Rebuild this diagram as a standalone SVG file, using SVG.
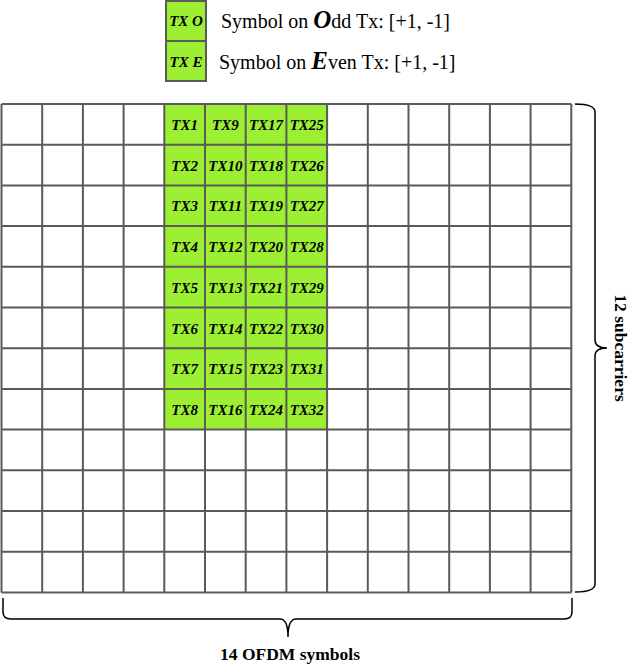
<svg xmlns="http://www.w3.org/2000/svg" width="634" height="664" viewBox="0 0 634 664">
<style>
.g{fill:#9cef33;stroke:#5a5a5a;stroke-width:2}
.ln{stroke:#5a5a5a;stroke-width:2;fill:none}
.c{font-family:"Liberation Serif","Times New Roman",serif;font-weight:bold;font-style:italic;font-size:15px;fill:#000;text-anchor:middle}
.lg{font-family:"Liberation Serif","Times New Roman",serif;font-size:20px;fill:#000}
.big{font-family:"Liberation Serif","Times New Roman",serif;font-weight:bold;font-style:italic;font-size:25px}
.br{stroke:#000;stroke-width:1.5;fill:none}
.lab{font-family:"Liberation Serif","Times New Roman",serif;font-weight:bold;font-size:17.5px;fill:#000;text-anchor:middle}
</style>
<rect width="634" height="664" fill="#fff"/>
<g id="legend-odd"><rect class="g" x="166" y="1" width="40" height="40"/><text class="c" x="186" y="26">TX O</text><text class="lg" x="221" y="28">Symbol on <tspan class="big">O</tspan>dd Tx: [+1, -1]</text></g>
<g id="legend-even"><rect class="g" x="166" y="41" width="40" height="40"/><text class="c" x="186" y="67">TX E</text><text class="lg" x="219" y="69">Symbol on <tspan class="big">E</tspan>ven Tx: [+1, -1]</text></g>
<g id="green-region">
<rect x="164.3" y="104" width="162.8" height="325.6" fill="#9cef33"/>
</g>
<g id="grid" class="ln">
<path d="M1.5,104V592.4M42.2,104V592.4M82.9,104V592.4M123.6,104V592.4M164.3,104V592.4M205,104V592.4M245.7,104V592.4M286.4,104V592.4M327.1,104V592.4M367.8,104V592.4M408.5,104V592.4M449.2,104V592.4M489.9,104V592.4M530.6,104V592.4M571.3,104V592.4"/>
<path d="M1.5,104H571.3M1.5,144.7H571.3M1.5,185.4H571.3M1.5,226.1H571.3M1.5,266.8H571.3M1.5,307.5H571.3M1.5,348.2H571.3M1.5,388.9H571.3M1.5,429.6H571.3M1.5,470.3H571.3M1.5,511H571.3M1.5,551.7H571.3M1.5,592.4H571.3"/>
</g>
<g id="cells">
<g id="tx1"><text class="c" x="184.65" y="130">TX1</text></g>
<g id="tx2"><text class="c" x="184.65" y="170.7">TX2</text></g>
<g id="tx3"><text class="c" x="184.65" y="211.4">TX3</text></g>
<g id="tx4"><text class="c" x="184.65" y="252.1">TX4</text></g>
<g id="tx5"><text class="c" x="184.65" y="292.8">TX5</text></g>
<g id="tx6"><text class="c" x="184.65" y="333.5">TX6</text></g>
<g id="tx7"><text class="c" x="184.65" y="374.2">TX7</text></g>
<g id="tx8"><text class="c" x="184.65" y="414.9">TX8</text></g>
<g id="tx9"><text class="c" x="225.35" y="130">TX9</text></g>
<g id="tx10"><text class="c" x="225.35" y="170.7">TX10</text></g>
<g id="tx11"><text class="c" x="225.35" y="211.4">TX11</text></g>
<g id="tx12"><text class="c" x="225.35" y="252.1">TX12</text></g>
<g id="tx13"><text class="c" x="225.35" y="292.8">TX13</text></g>
<g id="tx14"><text class="c" x="225.35" y="333.5">TX14</text></g>
<g id="tx15"><text class="c" x="225.35" y="374.2">TX15</text></g>
<g id="tx16"><text class="c" x="225.35" y="414.9">TX16</text></g>
<g id="tx17"><text class="c" x="266.05" y="130">TX17</text></g>
<g id="tx18"><text class="c" x="266.05" y="170.7">TX18</text></g>
<g id="tx19"><text class="c" x="266.05" y="211.4">TX19</text></g>
<g id="tx20"><text class="c" x="266.05" y="252.1">TX20</text></g>
<g id="tx21"><text class="c" x="266.05" y="292.8">TX21</text></g>
<g id="tx22"><text class="c" x="266.05" y="333.5">TX22</text></g>
<g id="tx23"><text class="c" x="266.05" y="374.2">TX23</text></g>
<g id="tx24"><text class="c" x="266.05" y="414.9">TX24</text></g>
<g id="tx25"><text class="c" x="306.75" y="130">TX25</text></g>
<g id="tx26"><text class="c" x="306.75" y="170.7">TX26</text></g>
<g id="tx27"><text class="c" x="306.75" y="211.4">TX27</text></g>
<g id="tx28"><text class="c" x="306.75" y="252.1">TX28</text></g>
<g id="tx29"><text class="c" x="306.75" y="292.8">TX29</text></g>
<g id="tx30"><text class="c" x="306.75" y="333.5">TX30</text></g>
<g id="tx31"><text class="c" x="306.75" y="374.2">TX31</text></g>
<g id="tx32"><text class="c" x="306.75" y="414.9">TX32</text></g>
</g>
<g id="braces">
<path class="br" d="M575,104 Q595,104 595,112 L595,340 Q595,348 607,348 Q595,348 595,356 L595,584 Q595,592 575,592"/>
<path class="br" d="M3,598 L3,612 Q3,619 11,619 L280,619 Q288,619 288,637 Q288,619 296,619 L564,619 Q572,619 572,612 L572,598"/>
</g>
<g id="labels">
<text class="lab" transform="translate(615,348) rotate(90)">12 subcarriers</text>
<text class="lab" x="290" y="660">14 OFDM symbols</text>
</g>
</svg>
